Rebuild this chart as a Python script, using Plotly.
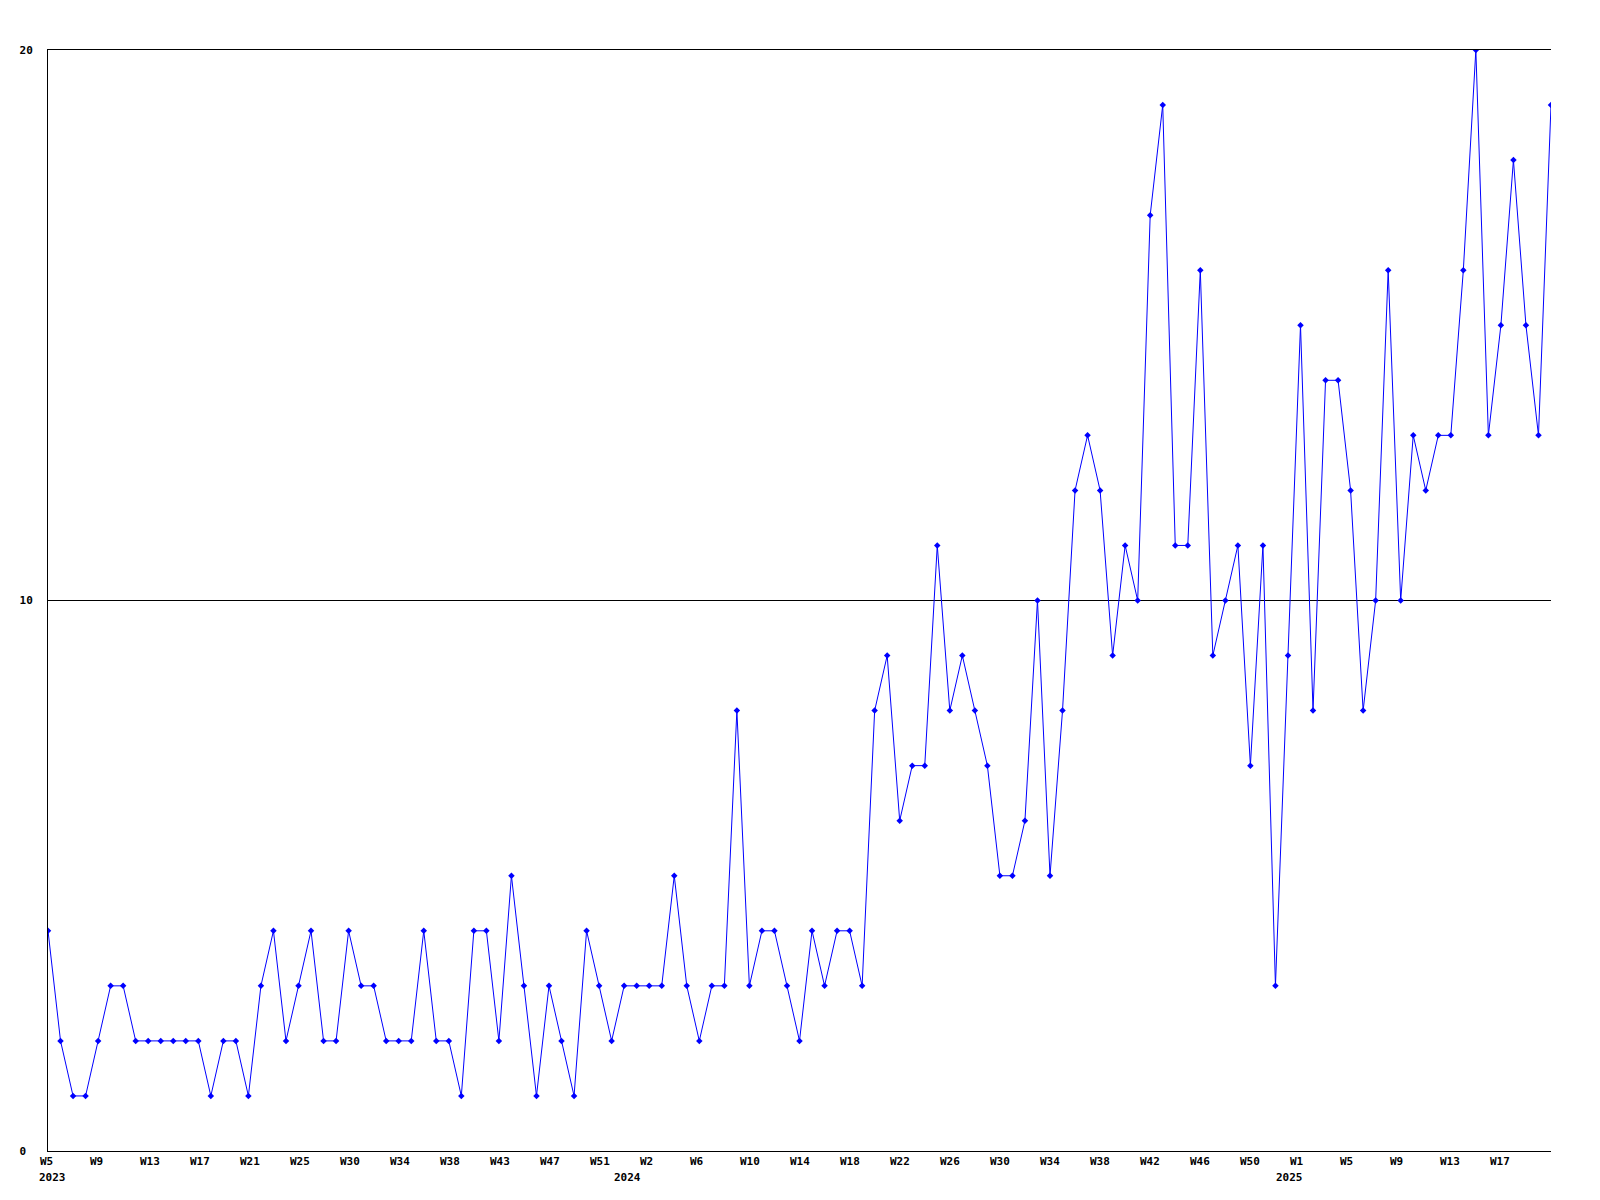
import plotly.graph_objects as go

# ---- data (weekly counts, 2023-W05 .. 2025-W21) ----
START_YEAR = 2023
START_WEEK = 5
VALUES = [
    4, 2, 1, 1, 2, 3, 3, 2, 2, 2, 2, 2, 2, 1, 2, 2, 1, 3, 4, 2,
    3, 4, 2, 2, 4, 3, 3, 2, 2, 2, 4, 2, 2, 1, 4, 4, 2, 5, 3, 1,
    3, 2, 1, 4, 3, 2, 3, 3, 3, 3, 5, 3, 2, 3, 3, 8, 3, 4, 4, 3,
    2, 4, 3, 4, 4, 3, 8, 9, 6, 7, 7, 11, 8, 9, 8, 7, 5, 5, 6, 10,
    5, 8, 12, 13, 12, 9, 11, 10, 17, 19, 11, 11, 16, 9, 10, 11, 7, 11, 3, 9,
    15, 8, 14, 14, 12, 8, 10, 16, 10, 13, 12, 13, 13, 16, 20, 13, 15, 18, 15, 13,
    19,
]
TICK_LABELS = ["W5", "W9", "W13", "W17", "W21", "W25", "W30", "W34", "W38", "W43",
               "W47", "W51", "W2", "W6", "W10", "W14", "W18", "W22", "W26", "W30",
               "W34", "W38", "W42", "W46", "W50", "W1", "W5", "W9", "W13", "W17"]
YEAR_LABELS = ["2023", "2024", "2025"]
Y_TICKS = [0, 10, 20]

# week names for hover
weeks = []
yr, wk = START_YEAR, START_WEEK
for _ in VALUES:
    weeks.append(f"{yr}-W{wk:02d}")
    wk += 1
    if wk > 52:
        yr += 1
        wk = 1
x = list(range(len(VALUES)))

# ---- layout geometry ----
W, H = 1600, 1200
ML, MR, MT, MB = 48, 49, 50, 49
PW = W - ML - MR
PH = H - MT - MB
FONT = dict(family="DejaVu Sans Mono, Liberation Mono, monospace", size=11, color="black", weight="bold")

# x labels: every 50 px, left-aligned, first one just left of the y axis
WEEK_LABEL_Y = 1161
YEAR_LABEL_Y = 1177
WEEK_LABEL_X0 = -10
YEAR_PX = [37, 612, 1274]

fig = go.Figure()
fig.add_trace(go.Scatter(
    x=x, y=VALUES, mode="lines+markers",
    line=dict(color="#0000ff", width=1),
    marker=dict(symbol="diamond", size=5, color="#0000ff"),
    text=weeks, hovertemplate="%{text}: %{y}<extra></extra>",
))

for k, lab in enumerate(TICK_LABELS):
    fig.add_annotation(
        text=lab, xref="paper", yref="paper",
        x=(WEEK_LABEL_X0 + 50 * k) / PW, y=-(WEEK_LABEL_Y - (H - MB)) / PH,
        xanchor="left", yanchor="middle", showarrow=False, font=FONT,
    )
for lab, px in zip(YEAR_LABELS, YEAR_PX):
    fig.add_annotation(
        text=lab, xref="paper", yref="paper",
        x=(px - ML) / PW, y=-(YEAR_LABEL_Y - (H - MB)) / PH,
        xanchor="left", yanchor="middle", showarrow=False, font=FONT,
    )

fig.update_layout(
    width=W, height=H,
    margin=dict(l=ML, r=MR, t=MT, b=MB, pad=0),
    paper_bgcolor="white", plot_bgcolor="white",
    showlegend=False,
    font=FONT,
)
fig.update_xaxes(
    range=[0, len(VALUES) - 1], showgrid=False, zeroline=False,
    showline=True, linecolor="black", linewidth=1, mirror=True,
    showticklabels=False, ticks="",
)
fig.update_yaxes(
    range=[0, 20], showgrid=True, gridcolor="black", gridwidth=1,
    zeroline=False, showline=True, linecolor="black", linewidth=1,
    tickmode="array", tickvals=Y_TICKS,
    ticktext=[f"{v}".ljust(2, "\u00a0") for v in Y_TICKS],
    ticks="", tickfont=FONT, ticklabelstandoff=12,
)

fig.write_html("out.html", config={"displayModeBar": False},
               post_script="document.body.style.margin='0';")
